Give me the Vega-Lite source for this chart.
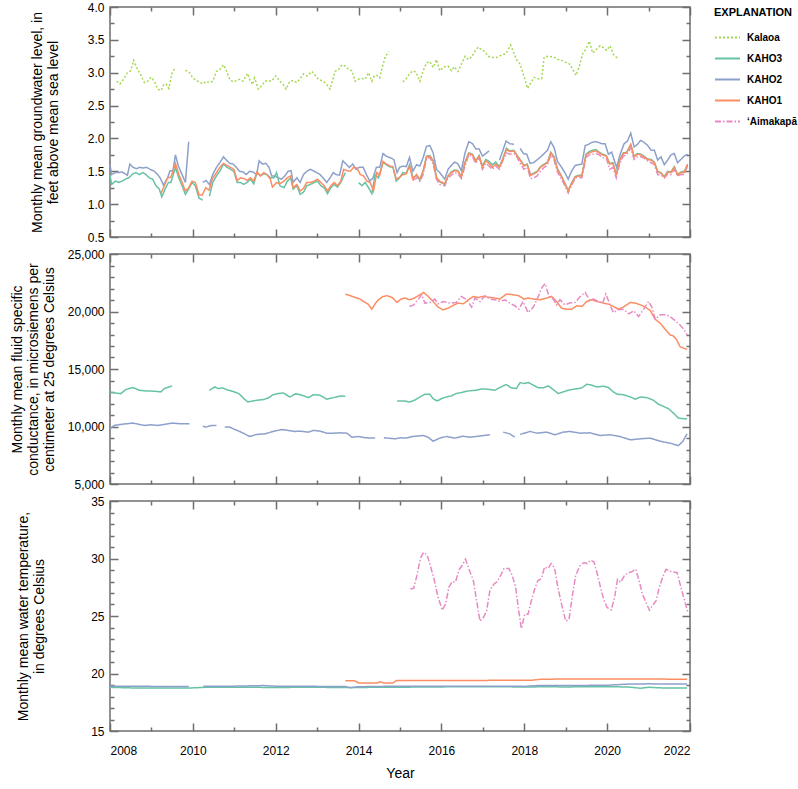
{
"$schema": "https://vega.github.io/schema/vega-lite/v6.json",
"padding": {"left": 9, "top": 0, "right": 0, "bottom": 0},
"spacing": 3,
"datasets": {
"level": [
{"site":"Kalaoa","year":2008.16,"value":2.87},{"site":"Kalaoa","year":2008.24,"value":2.83},{"site":"Kalaoa","year":2008.34,"value":2.91},{"site":"Kalaoa","year":2008.42,"value":3.0},{"site":"Kalaoa","year":2008.5,"value":3.03},{"site":"Kalaoa","year":2008.57,"value":3.19},{"site":"Kalaoa","year":2008.64,"value":3.08},{"site":"Kalaoa","year":2008.75,"value":2.96},{"site":"Kalaoa","year":2008.83,"value":2.85},{"site":"Kalaoa","year":2008.91,"value":2.87},{"site":"Kalaoa","year":2008.99,"value":2.93},{"site":"Kalaoa","year":2009.07,"value":2.87},{"site":"Kalaoa","year":2009.15,"value":2.75},{"site":"Kalaoa","year":2009.23,"value":2.73},{"site":"Kalaoa","year":2009.3,"value":2.82},{"site":"Kalaoa","year":2009.35,"value":2.83},{"site":"Kalaoa","year":2009.42,"value":2.76},{"site":"Kalaoa","year":2009.5,"value":3.0},{"site":"Kalaoa","year":2009.58,"value":3.08},{"site":"Kalaoa","year":2009.7,"value":null},
{"site":"Kalaoa","year":2009.82,"value":3.04},{"site":"Kalaoa","year":2009.92,"value":3.0},{"site":"Kalaoa","year":2010.0,"value":2.92},{"site":"Kalaoa","year":2010.12,"value":2.87},{"site":"Kalaoa","year":2010.24,"value":2.83},{"site":"Kalaoa","year":2010.32,"value":2.87},{"site":"Kalaoa","year":2010.4,"value":2.85},{"site":"Kalaoa","year":2010.48,"value":2.87},{"site":"Kalaoa","year":2010.57,"value":3.02},{"site":"Kalaoa","year":2010.65,"value":3.05},{"site":"Kalaoa","year":2010.74,"value":3.12},{"site":"Kalaoa","year":2010.81,"value":3.03},{"site":"Kalaoa","year":2010.89,"value":2.9},{"site":"Kalaoa","year":2010.97,"value":2.86},{"site":"Kalaoa","year":2011.05,"value":2.88},{"site":"Kalaoa","year":2011.13,"value":2.9},{"site":"Kalaoa","year":2011.21,"value":2.87},{"site":"Kalaoa","year":2011.32,"value":2.99},{"site":"Kalaoa","year":2011.37,"value":2.9},{"site":"Kalaoa","year":2011.44,"value":2.82},{"site":"Kalaoa","year":2011.49,"value":2.92},{"site":"Kalaoa","year":2011.58,"value":2.75},{"site":"Kalaoa","year":2011.66,"value":2.8},{"site":"Kalaoa","year":2011.74,"value":2.87},{"site":"Kalaoa","year":2011.82,"value":2.88},{"site":"Kalaoa","year":2011.9,"value":2.87},{"site":"Kalaoa","year":2012.0,"value":2.95},{"site":"Kalaoa","year":2012.1,"value":2.87},{"site":"Kalaoa","year":2012.18,"value":2.82},{"site":"Kalaoa","year":2012.25,"value":2.75},{"site":"Kalaoa","year":2012.34,"value":2.87},{"site":"Kalaoa","year":2012.42,"value":2.88},{"site":"Kalaoa","year":2012.51,"value":2.85},{"site":"Kalaoa","year":2012.59,"value":2.91},{"site":"Kalaoa","year":2012.67,"value":2.98},{"site":"Kalaoa","year":2012.76,"value":2.95},{"site":"Kalaoa","year":2012.87,"value":3.02},{"site":"Kalaoa","year":2012.95,"value":2.96},{"site":"Kalaoa","year":2013.03,"value":2.9},{"site":"Kalaoa","year":2013.15,"value":2.87},{"site":"Kalaoa","year":2013.23,"value":2.82},{"site":"Kalaoa","year":2013.31,"value":2.75},{"site":"Kalaoa","year":2013.39,"value":2.92},{"site":"Kalaoa","year":2013.43,"value":3.02},{"site":"Kalaoa","year":2013.52,"value":3.05},{"site":"Kalaoa","year":2013.6,"value":3.12},{"site":"Kalaoa","year":2013.68,"value":3.1},{"site":"Kalaoa","year":2013.76,"value":3.05},{"site":"Kalaoa","year":2013.84,"value":3.03},{"site":"Kalaoa","year":2013.92,"value":2.87},{"site":"Kalaoa","year":2014.0,"value":2.9},{"site":"Kalaoa","year":2014.08,"value":2.91},{"site":"Kalaoa","year":2014.16,"value":2.9},{"site":"Kalaoa","year":2014.24,"value":3.0},{"site":"Kalaoa","year":2014.32,"value":2.87},{"site":"Kalaoa","year":2014.38,"value":2.95},{"site":"Kalaoa","year":2014.44,"value":2.96},{"site":"Kalaoa","year":2014.51,"value":2.92},{"site":"Kalaoa","year":2014.57,"value":3.08},{"site":"Kalaoa","year":2014.65,"value":3.25},{"site":"Kalaoa","year":2014.73,"value":3.32},{"site":"Kalaoa","year":2014.9,"value":null},
{"site":"Kalaoa","year":2015.07,"value":2.86},{"site":"Kalaoa","year":2015.15,"value":2.91},{"site":"Kalaoa","year":2015.23,"value":2.98},{"site":"Kalaoa","year":2015.31,"value":3.03},{"site":"Kalaoa","year":2015.38,"value":3.01},{"site":"Kalaoa","year":2015.48,"value":2.87},{"site":"Kalaoa","year":2015.56,"value":3.03},{"site":"Kalaoa","year":2015.64,"value":3.15},{"site":"Kalaoa","year":2015.72,"value":3.17},{"site":"Kalaoa","year":2015.8,"value":3.08},{"site":"Kalaoa","year":2015.88,"value":3.2},{"site":"Kalaoa","year":2015.96,"value":3.03},{"site":"Kalaoa","year":2016.06,"value":3.09},{"site":"Kalaoa","year":2016.16,"value":3.1},{"site":"Kalaoa","year":2016.24,"value":3.03},{"site":"Kalaoa","year":2016.31,"value":3.09},{"site":"Kalaoa","year":2016.4,"value":3.02},{"site":"Kalaoa","year":2016.48,"value":3.13},{"site":"Kalaoa","year":2016.57,"value":3.25},{"site":"Kalaoa","year":2016.65,"value":3.2},{"site":"Kalaoa","year":2016.73,"value":3.24},{"site":"Kalaoa","year":2016.81,"value":3.33},{"site":"Kalaoa","year":2016.89,"value":3.39},{"site":"Kalaoa","year":2016.97,"value":3.35},{"site":"Kalaoa","year":2017.05,"value":3.32},{"site":"Kalaoa","year":2017.13,"value":3.25},{"site":"Kalaoa","year":2017.21,"value":3.23},{"site":"Kalaoa","year":2017.33,"value":3.23},{"site":"Kalaoa","year":2017.45,"value":3.27},{"site":"Kalaoa","year":2017.56,"value":3.29},{"site":"Kalaoa","year":2017.67,"value":3.42},{"site":"Kalaoa","year":2017.73,"value":3.33},{"site":"Kalaoa","year":2017.81,"value":3.2},{"site":"Kalaoa","year":2017.9,"value":3.13},{"site":"Kalaoa","year":2017.99,"value":2.95},{"site":"Kalaoa","year":2018.08,"value":2.76},{"site":"Kalaoa","year":2018.16,"value":2.85},{"site":"Kalaoa","year":2018.24,"value":2.93},{"site":"Kalaoa","year":2018.32,"value":2.91},{"site":"Kalaoa","year":2018.42,"value":2.91},{"site":"Kalaoa","year":2018.48,"value":3.24},{"site":"Kalaoa","year":2018.58,"value":3.25},{"site":"Kalaoa","year":2018.7,"value":3.24},{"site":"Kalaoa","year":2018.82,"value":3.2},{"site":"Kalaoa","year":2018.94,"value":3.18},{"site":"Kalaoa","year":2019.02,"value":3.15},{"site":"Kalaoa","year":2019.1,"value":3.13},{"site":"Kalaoa","year":2019.17,"value":3.05},{"site":"Kalaoa","year":2019.25,"value":2.96},{"site":"Kalaoa","year":2019.33,"value":3.1},{"site":"Kalaoa","year":2019.41,"value":3.29},{"site":"Kalaoa","year":2019.49,"value":3.36},{"site":"Kalaoa","year":2019.57,"value":3.48},{"site":"Kalaoa","year":2019.65,"value":3.3},{"site":"Kalaoa","year":2019.75,"value":3.36},{"site":"Kalaoa","year":2019.83,"value":3.41},{"site":"Kalaoa","year":2019.91,"value":3.38},{"site":"Kalaoa","year":2019.99,"value":3.34},{"site":"Kalaoa","year":2020.07,"value":3.41},{"site":"Kalaoa","year":2020.15,"value":3.28},{"site":"Kalaoa","year":2020.25,"value":3.22},
{"site":"KAHO2","year":2008.0,"value":1.6},{"site":"KAHO2","year":2008.04,"value":1.45},{"site":"KAHO2","year":2008.13,"value":1.48},{"site":"KAHO2","year":2008.21,"value":1.48},{"site":"KAHO2","year":2008.29,"value":1.49},{"site":"KAHO2","year":2008.37,"value":1.46},{"site":"KAHO2","year":2008.42,"value":1.44},{"site":"KAHO2","year":2008.48,"value":1.61},{"site":"KAHO2","year":2008.56,"value":1.56},{"site":"KAHO2","year":2008.64,"value":1.54},{"site":"KAHO2","year":2008.72,"value":1.56},{"site":"KAHO2","year":2008.8,"value":1.55},{"site":"KAHO2","year":2008.88,"value":1.56},{"site":"KAHO2","year":2008.97,"value":1.53},{"site":"KAHO2","year":2009.07,"value":1.5},{"site":"KAHO2","year":2009.15,"value":1.45},{"site":"KAHO2","year":2009.21,"value":1.4},{"site":"KAHO2","year":2009.29,"value":1.29},{"site":"KAHO2","year":2009.39,"value":1.4},{"site":"KAHO2","year":2009.45,"value":1.51},{"site":"KAHO2","year":2009.52,"value":1.51},{"site":"KAHO2","year":2009.58,"value":1.75},{"site":"KAHO2","year":2009.65,"value":1.58},{"site":"KAHO2","year":2009.74,"value":1.45},{"site":"KAHO2","year":2009.82,"value":1.33},{"site":"KAHO2","year":2009.9,"value":1.95},{"site":"KAHO2","year":2010.07,"value":null},
{"site":"KAHO2","year":2010.24,"value":1.33},{"site":"KAHO2","year":2010.32,"value":1.36},{"site":"KAHO2","year":2010.4,"value":1.3},{"site":"KAHO2","year":2010.48,"value":1.45},{"site":"KAHO2","year":2010.57,"value":1.56},{"site":"KAHO2","year":2010.65,"value":1.63},{"site":"KAHO2","year":2010.74,"value":1.72},{"site":"KAHO2","year":2010.81,"value":1.67},{"site":"KAHO2","year":2010.89,"value":1.62},{"site":"KAHO2","year":2010.97,"value":1.61},{"site":"KAHO2","year":2011.05,"value":1.56},{"site":"KAHO2","year":2011.13,"value":1.5},{"site":"KAHO2","year":2011.21,"value":1.49},{"site":"KAHO2","year":2011.29,"value":1.45},{"site":"KAHO2","year":2011.37,"value":1.5},{"site":"KAHO2","year":2011.45,"value":1.49},{"site":"KAHO2","year":2011.54,"value":1.45},{"site":"KAHO2","year":2011.6,"value":1.66},{"site":"KAHO2","year":2011.68,"value":1.61},{"site":"KAHO2","year":2011.76,"value":1.62},{"site":"KAHO2","year":2011.84,"value":1.56},{"site":"KAHO2","year":2011.9,"value":1.43},{"site":"KAHO2","year":2011.98,"value":1.43},{"site":"KAHO2","year":2012.06,"value":1.4},{"site":"KAHO2","year":2012.14,"value":1.38},{"site":"KAHO2","year":2012.22,"value":1.43},{"site":"KAHO2","year":2012.3,"value":1.5},{"site":"KAHO2","year":2012.37,"value":1.51},{"site":"KAHO2","year":2012.42,"value":1.33},{"site":"KAHO2","year":2012.51,"value":1.4},{"site":"KAHO2","year":2012.59,"value":1.33},{"site":"KAHO2","year":2012.67,"value":1.45},{"site":"KAHO2","year":2012.75,"value":1.5},{"site":"KAHO2","year":2012.84,"value":1.53},{"site":"KAHO2","year":2012.93,"value":1.5},{"site":"KAHO2","year":2012.99,"value":1.48},{"site":"KAHO2","year":2013.07,"value":1.45},{"site":"KAHO2","year":2013.17,"value":1.38},{"site":"KAHO2","year":2013.23,"value":1.33},{"site":"KAHO2","year":2013.31,"value":1.4},{"site":"KAHO2","year":2013.39,"value":1.48},{"site":"KAHO2","year":2013.46,"value":1.45},{"site":"KAHO2","year":2013.54,"value":1.44},{"site":"KAHO2","year":2013.62,"value":1.66},{"site":"KAHO2","year":2013.7,"value":1.61},{"site":"KAHO2","year":2013.78,"value":1.56},{"site":"KAHO2","year":2013.86,"value":1.61},{"site":"KAHO2","year":2013.94,"value":1.53},{"site":"KAHO2","year":2014.02,"value":1.56},{"site":"KAHO2","year":2014.11,"value":1.56},{"site":"KAHO2","year":2014.19,"value":1.45},{"site":"KAHO2","year":2014.27,"value":1.35},{"site":"KAHO2","year":2014.35,"value":1.4},{"site":"KAHO2","year":2014.43,"value":1.56},{"site":"KAHO2","year":2014.51,"value":1.56},{"site":"KAHO2","year":2014.59,"value":1.77},{"site":"KAHO2","year":2014.67,"value":1.73},{"site":"KAHO2","year":2014.75,"value":1.71},{"site":"KAHO2","year":2014.85,"value":1.68},{"site":"KAHO2","year":2014.93,"value":1.48},
{"site":"KAHO2","year":2014.99,"value":1.56},{"site":"KAHO2","year":2015.07,"value":1.58},{"site":"KAHO2","year":2015.15,"value":1.57},{"site":"KAHO2","year":2015.23,"value":1.71},{"site":"KAHO2","year":2015.31,"value":1.5},{"site":"KAHO2","year":2015.4,"value":1.6},{"site":"KAHO2","year":2015.48,"value":1.58},{"site":"KAHO2","year":2015.56,"value":1.71},{"site":"KAHO2","year":2015.64,"value":1.88},{"site":"KAHO2","year":2015.72,"value":1.89},{"site":"KAHO2","year":2015.8,"value":1.78},{"site":"KAHO2","year":2015.88,"value":1.53},{"site":"KAHO2","year":2015.96,"value":1.48},{"site":"KAHO2","year":2016.08,"value":1.38},{"site":"KAHO2","year":2016.16,"value":1.53},{"site":"KAHO2","year":2016.24,"value":1.59},{"site":"KAHO2","year":2016.32,"value":1.64},{"site":"KAHO2","year":2016.4,"value":1.61},{"site":"KAHO2","year":2016.48,"value":1.51},{"site":"KAHO2","year":2016.57,"value":1.78},{"site":"KAHO2","year":2016.66,"value":1.95},{"site":"KAHO2","year":2016.75,"value":1.92},{"site":"KAHO2","year":2016.83,"value":1.84},{"site":"KAHO2","year":2016.91,"value":1.84},{"site":"KAHO2","year":2016.99,"value":1.73},{"site":"KAHO2","year":2017.07,"value":1.77},{"site":"KAHO2","year":2017.15,"value":1.81},{"site":"KAHO2","year":2017.28,"value":null},{"site":"KAHO2","year":2017.4,"value":1.67},{"site":"KAHO2","year":2017.48,"value":1.81},{"site":"KAHO2","year":2017.56,"value":1.96},{"site":"KAHO2","year":2017.65,"value":1.92},{"site":"KAHO2","year":2017.75,"value":1.91},{"site":"KAHO2","year":2017.82,"value":null},{"site":"KAHO2","year":2017.9,"value":1.85},{"site":"KAHO2","year":2017.98,"value":1.77},{"site":"KAHO2","year":2018.06,"value":1.76},{"site":"KAHO2","year":2018.14,"value":1.62},{"site":"KAHO2","year":2018.22,"value":1.63},{"site":"KAHO2","year":2018.3,"value":1.67},{"site":"KAHO2","year":2018.38,"value":1.71},{"site":"KAHO2","year":2018.48,"value":1.77},{"site":"KAHO2","year":2018.56,"value":1.82},{"site":"KAHO2","year":2018.64,"value":1.95},{"site":"KAHO2","year":2018.72,"value":1.86},{"site":"KAHO2","year":2018.8,"value":1.65},{"site":"KAHO2","year":2018.88,"value":1.58},{"site":"KAHO2","year":2018.98,"value":1.48},{"site":"KAHO2","year":2019.06,"value":1.38},{"site":"KAHO2","year":2019.14,"value":1.5},{"site":"KAHO2","year":2019.23,"value":1.59},{"site":"KAHO2","year":2019.31,"value":1.6},{"site":"KAHO2","year":2019.39,"value":1.61},{"site":"KAHO2","year":2019.47,"value":1.89},{"site":"KAHO2","year":2019.55,"value":1.91},{"site":"KAHO2","year":2019.63,"value":1.94},{"site":"KAHO2","year":2019.71,"value":1.95},{"site":"KAHO2","year":2019.79,"value":1.94},{"site":"KAHO2","year":2019.87,"value":1.92},{"site":"KAHO2","year":2019.95,"value":1.92},{"site":"KAHO2","year":2020.03,"value":1.76},{"site":"KAHO2","year":2020.11,"value":1.79},{"site":"KAHO2","year":2020.17,"value":1.67},{"site":"KAHO2","year":2020.23,"value":1.56},{"site":"KAHO2","year":2020.31,"value":1.75},{"site":"KAHO2","year":2020.41,"value":1.92},{"site":"KAHO2","year":2020.49,"value":1.96},{"site":"KAHO2","year":2020.57,"value":2.08},{"site":"KAHO2","year":2020.65,"value":1.87},{"site":"KAHO2","year":2020.73,"value":1.91},{"site":"KAHO2","year":2020.81,"value":1.97},{"site":"KAHO2","year":2020.89,"value":1.94},{"site":"KAHO2","year":2020.97,"value":1.9},{"site":"KAHO2","year":2021.06,"value":1.82},{"site":"KAHO2","year":2021.14,"value":1.82},{"site":"KAHO2","year":2021.22,"value":1.67},{"site":"KAHO2","year":2021.3,"value":1.72},{"site":"KAHO2","year":2021.38,"value":1.6},{"site":"KAHO2","year":2021.46,"value":1.67},{"site":"KAHO2","year":2021.54,"value":1.75},{"site":"KAHO2","year":2021.62,"value":1.77},{"site":"KAHO2","year":2021.7,"value":1.63},{"site":"KAHO2","year":2021.78,"value":1.68},{"site":"KAHO2","year":2021.86,"value":1.73},{"site":"KAHO2","year":2021.94,"value":1.76},
{"site":"ʻAimakapā","year":2015.31,"value":1.36},{"site":"ʻAimakapā","year":2015.4,"value":1.4},{"site":"ʻAimakapā","year":2015.48,"value":1.35},{"site":"ʻAimakapā","year":2015.56,"value":1.45},{"site":"ʻAimakapā","year":2015.64,"value":1.7},{"site":"ʻAimakapā","year":2015.72,"value":1.71},{"site":"ʻAimakapā","year":2015.8,"value":1.61},{"site":"ʻAimakapā","year":2015.88,"value":1.38},{"site":"ʻAimakapā","year":2015.96,"value":1.3},{"site":"ʻAimakapā","year":2016.08,"value":1.28},{"site":"ʻAimakapā","year":2016.16,"value":1.4},{"site":"ʻAimakapā","year":2016.24,"value":1.44},{"site":"ʻAimakapā","year":2016.32,"value":1.48},{"site":"ʻAimakapā","year":2016.4,"value":1.46},{"site":"ʻAimakapā","year":2016.48,"value":1.39},{"site":"ʻAimakapā","year":2016.57,"value":1.58},{"site":"ʻAimakapā","year":2016.66,"value":1.75},{"site":"ʻAimakapā","year":2016.75,"value":1.72},{"site":"ʻAimakapā","year":2016.83,"value":1.62},{"site":"ʻAimakapā","year":2016.91,"value":1.71},{"site":"ʻAimakapā","year":2016.99,"value":1.53},{"site":"ʻAimakapā","year":2017.07,"value":1.62},{"site":"ʻAimakapā","year":2017.15,"value":1.58},{"site":"ʻAimakapā","year":2017.23,"value":1.53},{"site":"ʻAimakapā","year":2017.31,"value":1.58},{"site":"ʻAimakapā","year":2017.4,"value":1.53},{"site":"ʻAimakapā","year":2017.48,"value":1.66},{"site":"ʻAimakapā","year":2017.57,"value":1.78},{"site":"ʻAimakapā","year":2017.65,"value":1.76},{"site":"ʻAimakapā","year":2017.75,"value":1.77},{"site":"ʻAimakapā","year":2017.83,"value":1.71},{"site":"ʻAimakapā","year":2017.91,"value":1.61},{"site":"ʻAimakapā","year":2017.99,"value":1.53},{"site":"ʻAimakapā","year":2018.07,"value":1.56},{"site":"ʻAimakapā","year":2018.15,"value":1.39},{"site":"ʻAimakapā","year":2018.23,"value":1.4},{"site":"ʻAimakapā","year":2018.31,"value":1.43},{"site":"ʻAimakapā","year":2018.39,"value":1.5},{"site":"ʻAimakapā","year":2018.48,"value":1.56},{"site":"ʻAimakapā","year":2018.56,"value":1.6},{"site":"ʻAimakapā","year":2018.64,"value":1.75},{"site":"ʻAimakapā","year":2018.72,"value":1.67},{"site":"ʻAimakapā","year":2018.8,"value":1.49},{"site":"ʻAimakapā","year":2018.88,"value":1.4},{"site":"ʻAimakapā","year":2018.98,"value":1.28},{"site":"ʻAimakapā","year":2019.06,"value":1.17},{"site":"ʻAimakapā","year":2019.14,"value":1.28},{"site":"ʻAimakapā","year":2019.23,"value":1.4},{"site":"ʻAimakapā","year":2019.31,"value":1.41},{"site":"ʻAimakapā","year":2019.39,"value":1.4},{"site":"ʻAimakapā","year":2019.49,"value":1.71},{"site":"ʻAimakapā","year":2019.57,"value":1.75},{"site":"ʻAimakapā","year":2019.65,"value":1.76},{"site":"ʻAimakapā","year":2019.73,"value":1.77},{"site":"ʻAimakapā","year":2019.81,"value":1.75},{"site":"ʻAimakapā","year":2019.89,"value":1.71},{"site":"ʻAimakapā","year":2019.98,"value":1.7},{"site":"ʻAimakapā","year":2020.06,"value":1.53},{"site":"ʻAimakapā","year":2020.14,"value":1.56},{"site":"ʻAimakapā","year":2020.22,"value":1.4},{"site":"ʻAimakapā","year":2020.3,"value":1.61},{"site":"ʻAimakapā","year":2020.39,"value":1.73},{"site":"ʻAimakapā","year":2020.47,"value":1.75},{"site":"ʻAimakapā","year":2020.57,"value":1.86},{"site":"ʻAimakapā","year":2020.65,"value":1.68},{"site":"ʻAimakapā","year":2020.73,"value":1.72},{"site":"ʻAimakapā","year":2020.81,"value":1.72},{"site":"ʻAimakapā","year":2020.89,"value":1.7},{"site":"ʻAimakapā","year":2020.97,"value":1.66},{"site":"ʻAimakapā","year":2021.06,"value":1.63},{"site":"ʻAimakapā","year":2021.14,"value":1.6},{"site":"ʻAimakapā","year":2021.22,"value":1.45},{"site":"ʻAimakapā","year":2021.3,"value":1.44},{"site":"ʻAimakapā","year":2021.38,"value":1.4},{"site":"ʻAimakapā","year":2021.46,"value":1.46},{"site":"ʻAimakapā","year":2021.54,"value":1.45},{"site":"ʻAimakapā","year":2021.62,"value":1.53},{"site":"ʻAimakapā","year":2021.7,"value":1.43},{"site":"ʻAimakapā","year":2021.78,"value":1.45},{"site":"ʻAimakapā","year":2021.86,"value":1.45},{"site":"ʻAimakapā","year":2021.94,"value":1.58},
{"site":"KAHO3","year":2008.0,"value":1.44},{"site":"KAHO3","year":2008.04,"value":1.3},{"site":"KAHO3","year":2008.13,"value":1.35},{"site":"KAHO3","year":2008.21,"value":1.33},{"site":"KAHO3","year":2008.29,"value":1.35},{"site":"KAHO3","year":2008.37,"value":1.38},{"site":"KAHO3","year":2008.45,"value":1.4},{"site":"KAHO3","year":2008.55,"value":1.46},{"site":"KAHO3","year":2008.63,"value":1.48},{"site":"KAHO3","year":2008.71,"value":1.45},{"site":"KAHO3","year":2008.79,"value":1.48},{"site":"KAHO3","year":2008.87,"value":1.45},{"site":"KAHO3","year":2008.95,"value":1.4},{"site":"KAHO3","year":2009.03,"value":1.38},{"site":"KAHO3","year":2009.11,"value":1.28},{"site":"KAHO3","year":2009.19,"value":1.23},{"site":"KAHO3","year":2009.25,"value":1.11},{"site":"KAHO3","year":2009.33,"value":1.23},{"site":"KAHO3","year":2009.41,"value":1.33},{"site":"KAHO3","year":2009.47,"value":1.33},{"site":"KAHO3","year":2009.58,"value":1.56},{"site":"KAHO3","year":2009.66,"value":1.4},{"site":"KAHO3","year":2009.74,"value":1.28},{"site":"KAHO3","year":2009.82,"value":1.15},{"site":"KAHO3","year":2009.9,"value":1.23},{"site":"KAHO3","year":2009.98,"value":1.33},{"site":"KAHO3","year":2010.06,"value":1.28},{"site":"KAHO3","year":2010.15,"value":1.09},{"site":"KAHO3","year":2010.24,"value":1.06},{"site":"KAHO3","year":2010.32,"value":null},{"site":"KAHO3","year":2010.4,"value":1.12},{"site":"KAHO3","year":2010.48,"value":1.33},{"site":"KAHO3","year":2010.57,"value":1.43},{"site":"KAHO3","year":2010.65,"value":1.5},{"site":"KAHO3","year":2010.74,"value":1.61},{"site":"KAHO3","year":2010.82,"value":1.56},{"site":"KAHO3","year":2010.91,"value":1.53},{"site":"KAHO3","year":2010.99,"value":1.5},{"site":"KAHO3","year":2011.07,"value":1.33},{"site":"KAHO3","year":2011.15,"value":1.33},{"site":"KAHO3","year":2011.23,"value":1.3},{"site":"KAHO3","year":2011.31,"value":1.33},{"site":"KAHO3","year":2011.39,"value":1.38},{"site":"KAHO3","year":2011.47,"value":1.31},{"site":"KAHO3","year":2011.55,"value":1.48},{"site":"KAHO3","year":2011.63,"value":1.43},{"site":"KAHO3","year":2011.71,"value":1.46},{"site":"KAHO3","year":2011.79,"value":1.45},{"site":"KAHO3","year":2011.87,"value":1.4},{"site":"KAHO3","year":2011.96,"value":1.4},{"site":"KAHO3","year":2012.02,"value":1.48},{"site":"KAHO3","year":2012.1,"value":1.28},{"site":"KAHO3","year":2012.2,"value":1.25},{"site":"KAHO3","year":2012.28,"value":1.35},{"site":"KAHO3","year":2012.36,"value":1.4},{"site":"KAHO3","year":2012.42,"value":1.23},{"site":"KAHO3","year":2012.51,"value":1.28},{"site":"KAHO3","year":2012.59,"value":1.15},{"site":"KAHO3","year":2012.67,"value":1.18},{"site":"KAHO3","year":2012.75,"value":1.28},{"site":"KAHO3","year":2012.84,"value":1.3},{"site":"KAHO3","year":2012.93,"value":1.33},{"site":"KAHO3","year":2013.01,"value":1.35},{"site":"KAHO3","year":2013.09,"value":1.28},{"site":"KAHO3","year":2013.17,"value":1.25},{"site":"KAHO3","year":2013.25,"value":1.16},{"site":"KAHO3","year":2013.33,"value":1.25},{"site":"KAHO3","year":2013.41,"value":1.3},{"site":"KAHO3","year":2013.49,"value":1.26},{"site":"KAHO3","year":2013.57,"value":1.33},{"site":"KAHO3","year":2013.68,"value":1.48},{"site":"KAHO3","year":2013.84,"value":null},{"site":"KAHO3","year":2014.0,"value":1.33},{"site":"KAHO3","year":2014.08,"value":1.28},{"site":"KAHO3","year":2014.16,"value":1.33},{"site":"KAHO3","year":2014.24,"value":1.25},{"site":"KAHO3","year":2014.32,"value":1.16},{"site":"KAHO3","year":2014.4,"value":1.45},{"site":"KAHO3","year":2014.48,"value":1.4},{"site":"KAHO3","year":2014.59,"value":1.63},{"site":"KAHO3","year":2014.67,"value":1.6},{"site":"KAHO3","year":2014.75,"value":1.57},{"site":"KAHO3","year":2014.83,"value":1.56},{"site":"KAHO3","year":2014.91,"value":1.35},
{"site":"KAHO3","year":2014.99,"value":1.4},{"site":"KAHO3","year":2015.07,"value":1.48},{"site":"KAHO3","year":2015.15,"value":1.47},{"site":"KAHO3","year":2015.23,"value":1.6},{"site":"KAHO3","year":2015.31,"value":1.4},{"site":"KAHO3","year":2015.4,"value":1.44},{"site":"KAHO3","year":2015.48,"value":1.37},{"site":"KAHO3","year":2015.56,"value":1.51},{"site":"KAHO3","year":2015.64,"value":1.73},{"site":"KAHO3","year":2015.72,"value":1.74},{"site":"KAHO3","year":2015.8,"value":1.66},{"site":"KAHO3","year":2015.88,"value":1.41},{"site":"KAHO3","year":2015.96,"value":1.34},{"site":"KAHO3","year":2016.08,"value":1.3},{"site":"KAHO3","year":2016.16,"value":1.43},{"site":"KAHO3","year":2016.24,"value":1.49},{"site":"KAHO3","year":2016.32,"value":1.52},{"site":"KAHO3","year":2016.4,"value":1.51},{"site":"KAHO3","year":2016.48,"value":1.42},{"site":"KAHO3","year":2016.57,"value":1.64},{"site":"KAHO3","year":2016.66,"value":1.78},{"site":"KAHO3","year":2016.75,"value":1.76},{"site":"KAHO3","year":2016.83,"value":1.66},{"site":"KAHO3","year":2016.91,"value":1.74},{"site":"KAHO3","year":2016.99,"value":1.58},{"site":"KAHO3","year":2017.07,"value":1.68},{"site":"KAHO3","year":2017.15,"value":1.65},{"site":"KAHO3","year":2017.23,"value":1.6},{"site":"KAHO3","year":2017.31,"value":1.64},{"site":"KAHO3","year":2017.4,"value":1.57},{"site":"KAHO3","year":2017.48,"value":1.69},{"site":"KAHO3","year":2017.57,"value":1.85},{"site":"KAHO3","year":2017.65,"value":1.81},{"site":"KAHO3","year":2017.75,"value":1.82},{"site":"KAHO3","year":2017.83,"value":1.74},{"site":"KAHO3","year":2017.91,"value":1.67},{"site":"KAHO3","year":2017.99,"value":1.59},{"site":"KAHO3","year":2018.07,"value":1.61},{"site":"KAHO3","year":2018.15,"value":1.45},{"site":"KAHO3","year":2018.23,"value":1.47},{"site":"KAHO3","year":2018.31,"value":1.5},{"site":"KAHO3","year":2018.39,"value":1.57},{"site":"KAHO3","year":2018.48,"value":1.61},{"site":"KAHO3","year":2018.56,"value":1.64},{"site":"KAHO3","year":2018.64,"value":1.79},{"site":"KAHO3","year":2018.72,"value":1.72},{"site":"KAHO3","year":2018.8,"value":1.54},{"site":"KAHO3","year":2018.88,"value":1.45},{"site":"KAHO3","year":2018.98,"value":1.32},{"site":"KAHO3","year":2019.06,"value":1.21},{"site":"KAHO3","year":2019.14,"value":1.32},{"site":"KAHO3","year":2019.23,"value":1.42},{"site":"KAHO3","year":2019.31,"value":1.44},{"site":"KAHO3","year":2019.39,"value":1.44},{"site":"KAHO3","year":2019.49,"value":1.76},{"site":"KAHO3","year":2019.57,"value":1.8},{"site":"KAHO3","year":2019.65,"value":1.82},{"site":"KAHO3","year":2019.73,"value":1.83},{"site":"KAHO3","year":2019.81,"value":1.79},{"site":"KAHO3","year":2019.89,"value":1.76},{"site":"KAHO3","year":2019.98,"value":1.74},{"site":"KAHO3","year":2020.06,"value":1.62},{"site":"KAHO3","year":2020.14,"value":1.63},{"site":"KAHO3","year":2020.22,"value":1.45},{"site":"KAHO3","year":2020.3,"value":1.67},{"site":"KAHO3","year":2020.39,"value":1.78},{"site":"KAHO3","year":2020.47,"value":1.79},{"site":"KAHO3","year":2020.57,"value":1.9},{"site":"KAHO3","year":2020.65,"value":1.73},{"site":"KAHO3","year":2020.73,"value":1.77},{"site":"KAHO3","year":2020.81,"value":1.76},{"site":"KAHO3","year":2020.89,"value":1.73},{"site":"KAHO3","year":2020.97,"value":1.69},{"site":"KAHO3","year":2021.06,"value":1.68},{"site":"KAHO3","year":2021.14,"value":1.64},{"site":"KAHO3","year":2021.22,"value":1.5},{"site":"KAHO3","year":2021.3,"value":1.47},{"site":"KAHO3","year":2021.38,"value":1.42},{"site":"KAHO3","year":2021.46,"value":1.5},{"site":"KAHO3","year":2021.54,"value":1.49},{"site":"KAHO3","year":2021.62,"value":1.57},{"site":"KAHO3","year":2021.7,"value":1.45},{"site":"KAHO3","year":2021.78,"value":1.49},{"site":"KAHO3","year":2021.86,"value":1.49},{"site":"KAHO3","year":2021.94,"value":1.6},
{"site":"KAHO1","year":2009.23,"value":1.16},{"site":"KAHO1","year":2009.31,"value":1.28},{"site":"KAHO1","year":2009.39,"value":1.4},{"site":"KAHO1","year":2009.47,"value":1.41},{"site":"KAHO1","year":2009.58,"value":1.62},{"site":"KAHO1","year":2009.66,"value":1.45},{"site":"KAHO1","year":2009.74,"value":1.33},{"site":"KAHO1","year":2009.82,"value":1.2},{"site":"KAHO1","year":2009.9,"value":1.25},{"site":"KAHO1","year":2009.98,"value":1.35},{"site":"KAHO1","year":2010.06,"value":1.33},{"site":"KAHO1","year":2010.15,"value":1.14},{"site":"KAHO1","year":2010.23,"value":1.14},{"site":"KAHO1","year":2010.31,"value":1.25},{"site":"KAHO1","year":2010.39,"value":1.21},{"site":"KAHO1","year":2010.47,"value":1.38},{"site":"KAHO1","year":2010.57,"value":1.48},{"site":"KAHO1","year":2010.65,"value":1.56},{"site":"KAHO1","year":2010.74,"value":1.62},{"site":"KAHO1","year":2010.82,"value":1.59},{"site":"KAHO1","year":2010.91,"value":1.56},{"site":"KAHO1","year":2010.99,"value":1.53},{"site":"KAHO1","year":2011.07,"value":1.36},{"site":"KAHO1","year":2011.15,"value":1.4},{"site":"KAHO1","year":2011.23,"value":1.39},{"site":"KAHO1","year":2011.31,"value":1.36},{"site":"KAHO1","year":2011.39,"value":1.4},{"site":"KAHO1","year":2011.47,"value":1.35},{"site":"KAHO1","year":2011.55,"value":1.49},{"site":"KAHO1","year":2011.63,"value":1.43},{"site":"KAHO1","year":2011.71,"value":1.48},{"site":"KAHO1","year":2011.79,"value":1.45},{"site":"KAHO1","year":2011.87,"value":1.38},{"site":"KAHO1","year":2011.92,"value":1.26},{"site":"KAHO1","year":2012.02,"value":1.33},{"site":"KAHO1","year":2012.1,"value":1.31},{"site":"KAHO1","year":2012.2,"value":1.35},{"site":"KAHO1","year":2012.28,"value":1.4},{"site":"KAHO1","year":2012.36,"value":1.43},{"site":"KAHO1","year":2012.42,"value":1.25},{"site":"KAHO1","year":2012.51,"value":1.3},{"site":"KAHO1","year":2012.59,"value":1.2},{"site":"KAHO1","year":2012.67,"value":1.24},{"site":"KAHO1","year":2012.75,"value":1.33},{"site":"KAHO1","year":2012.84,"value":1.33},{"site":"KAHO1","year":2012.93,"value":1.35},{"site":"KAHO1","year":2013.01,"value":1.38},{"site":"KAHO1","year":2013.09,"value":1.33},{"site":"KAHO1","year":2013.17,"value":1.28},{"site":"KAHO1","year":2013.25,"value":1.2},{"site":"KAHO1","year":2013.33,"value":1.28},{"site":"KAHO1","year":2013.41,"value":1.33},{"site":"KAHO1","year":2013.49,"value":1.28},{"site":"KAHO1","year":2013.57,"value":1.35},{"site":"KAHO1","year":2013.64,"value":1.53},{"site":"KAHO1","year":2013.72,"value":1.51},{"site":"KAHO1","year":2013.8,"value":1.5},{"site":"KAHO1","year":2013.88,"value":1.56},{"site":"KAHO1","year":2013.96,"value":1.55},{"site":"KAHO1","year":2014.04,"value":1.45},{"site":"KAHO1","year":2014.12,"value":1.43},{"site":"KAHO1","year":2014.2,"value":1.35},{"site":"KAHO1","year":2014.28,"value":1.33},{"site":"KAHO1","year":2014.36,"value":1.2},{"site":"KAHO1","year":2014.44,"value":1.48},{"site":"KAHO1","year":2014.51,"value":1.44},{"site":"KAHO1","year":2014.59,"value":1.65},{"site":"KAHO1","year":2014.67,"value":1.61},{"site":"KAHO1","year":2014.75,"value":1.58},{"site":"KAHO1","year":2014.83,"value":1.57},{"site":"KAHO1","year":2014.91,"value":1.38},
{"site":"KAHO1","year":2014.99,"value":1.41},{"site":"KAHO1","year":2015.07,"value":1.45},{"site":"KAHO1","year":2015.15,"value":1.46},{"site":"KAHO1","year":2015.23,"value":1.58},{"site":"KAHO1","year":2015.31,"value":1.38},{"site":"KAHO1","year":2015.4,"value":1.45},{"site":"KAHO1","year":2015.48,"value":1.38},{"site":"KAHO1","year":2015.56,"value":1.5},{"site":"KAHO1","year":2015.64,"value":1.72},{"site":"KAHO1","year":2015.72,"value":1.73},{"site":"KAHO1","year":2015.8,"value":1.66},{"site":"KAHO1","year":2015.88,"value":1.4},{"site":"KAHO1","year":2015.96,"value":1.35},{"site":"KAHO1","year":2016.08,"value":1.31},{"site":"KAHO1","year":2016.16,"value":1.43},{"site":"KAHO1","year":2016.24,"value":1.48},{"site":"KAHO1","year":2016.32,"value":1.51},{"site":"KAHO1","year":2016.4,"value":1.5},{"site":"KAHO1","year":2016.48,"value":1.41},{"site":"KAHO1","year":2016.57,"value":1.63},{"site":"KAHO1","year":2016.66,"value":1.77},{"site":"KAHO1","year":2016.75,"value":1.75},{"site":"KAHO1","year":2016.83,"value":1.65},{"site":"KAHO1","year":2016.91,"value":1.73},{"site":"KAHO1","year":2016.99,"value":1.56},{"site":"KAHO1","year":2017.07,"value":1.66},{"site":"KAHO1","year":2017.15,"value":1.62},{"site":"KAHO1","year":2017.23,"value":1.56},{"site":"KAHO1","year":2017.31,"value":1.61},{"site":"KAHO1","year":2017.4,"value":1.56},{"site":"KAHO1","year":2017.48,"value":1.68},{"site":"KAHO1","year":2017.57,"value":1.83},{"site":"KAHO1","year":2017.65,"value":1.8},{"site":"KAHO1","year":2017.75,"value":1.81},{"site":"KAHO1","year":2017.83,"value":1.73},{"site":"KAHO1","year":2017.91,"value":1.66},{"site":"KAHO1","year":2017.99,"value":1.58},{"site":"KAHO1","year":2018.07,"value":1.6},{"site":"KAHO1","year":2018.15,"value":1.44},{"site":"KAHO1","year":2018.23,"value":1.46},{"site":"KAHO1","year":2018.31,"value":1.49},{"site":"KAHO1","year":2018.39,"value":1.56},{"site":"KAHO1","year":2018.48,"value":1.6},{"site":"KAHO1","year":2018.56,"value":1.63},{"site":"KAHO1","year":2018.64,"value":1.78},{"site":"KAHO1","year":2018.72,"value":1.71},{"site":"KAHO1","year":2018.8,"value":1.53},{"site":"KAHO1","year":2018.88,"value":1.44},{"site":"KAHO1","year":2018.98,"value":1.31},{"site":"KAHO1","year":2019.06,"value":1.2},{"site":"KAHO1","year":2019.14,"value":1.31},{"site":"KAHO1","year":2019.23,"value":1.41},{"site":"KAHO1","year":2019.31,"value":1.43},{"site":"KAHO1","year":2019.39,"value":1.43},{"site":"KAHO1","year":2019.49,"value":1.75},{"site":"KAHO1","year":2019.57,"value":1.78},{"site":"KAHO1","year":2019.65,"value":1.8},{"site":"KAHO1","year":2019.73,"value":1.81},{"site":"KAHO1","year":2019.81,"value":1.78},{"site":"KAHO1","year":2019.89,"value":1.75},{"site":"KAHO1","year":2019.98,"value":1.73},{"site":"KAHO1","year":2020.06,"value":1.61},{"site":"KAHO1","year":2020.14,"value":1.62},{"site":"KAHO1","year":2020.22,"value":1.44},{"site":"KAHO1","year":2020.3,"value":1.66},{"site":"KAHO1","year":2020.39,"value":1.77},{"site":"KAHO1","year":2020.47,"value":1.78},{"site":"KAHO1","year":2020.57,"value":1.91},{"site":"KAHO1","year":2020.65,"value":1.72},{"site":"KAHO1","year":2020.73,"value":1.76},{"site":"KAHO1","year":2020.81,"value":1.75},{"site":"KAHO1","year":2020.89,"value":1.72},{"site":"KAHO1","year":2020.97,"value":1.68},{"site":"KAHO1","year":2021.06,"value":1.67},{"site":"KAHO1","year":2021.14,"value":1.63},{"site":"KAHO1","year":2021.22,"value":1.49},{"site":"KAHO1","year":2021.3,"value":1.48},{"site":"KAHO1","year":2021.38,"value":1.41},{"site":"KAHO1","year":2021.46,"value":1.49},{"site":"KAHO1","year":2021.54,"value":1.48},{"site":"KAHO1","year":2021.62,"value":1.56},{"site":"KAHO1","year":2021.7,"value":1.44},{"site":"KAHO1","year":2021.78,"value":1.48},{"site":"KAHO1","year":2021.86,"value":1.48},{"site":"KAHO1","year":2021.94,"value":1.61}
],
"sc": [
{"site":"KAHO3","year":2008.0,"value":13010},{"site":"KAHO3","year":2008.1,"value":12920},{"site":"KAHO3","year":2008.26,"value":12860},{"site":"KAHO3","year":2008.38,"value":13210},{"site":"KAHO3","year":2008.55,"value":13390},{"site":"KAHO3","year":2008.71,"value":13150},{"site":"KAHO3","year":2008.87,"value":13090},{"site":"KAHO3","year":2009.07,"value":13070},{"site":"KAHO3","year":2009.23,"value":13010},{"site":"KAHO3","year":2009.31,"value":13300},{"site":"KAHO3","year":2009.5,"value":13530},{"site":"KAHO3","year":2009.9,"value":null},{"site":"KAHO3","year":2010.4,"value":13150},{"site":"KAHO3","year":2010.53,"value":13440},{"site":"KAHO3","year":2010.61,"value":13300},{"site":"KAHO3","year":2010.71,"value":13360},{"site":"KAHO3","year":2010.81,"value":13210},{"site":"KAHO3","year":2010.93,"value":13090},{"site":"KAHO3","year":2011.05,"value":12950},{"site":"KAHO3","year":2011.13,"value":12800},{"site":"KAHO3","year":2011.23,"value":12420},{"site":"KAHO3","year":2011.33,"value":12130},{"site":"KAHO3","year":2011.44,"value":12220},{"site":"KAHO3","year":2011.54,"value":12280},{"site":"KAHO3","year":2011.7,"value":12340},{"site":"KAHO3","year":2011.82,"value":12480},{"site":"KAHO3","year":2011.94,"value":12770},{"site":"KAHO3","year":2012.06,"value":12860},{"site":"KAHO3","year":2012.18,"value":12920},{"site":"KAHO3","year":2012.34,"value":12570},{"site":"KAHO3","year":2012.49,"value":12860},{"site":"KAHO3","year":2012.63,"value":12720},{"site":"KAHO3","year":2012.79,"value":12510},{"site":"KAHO3","year":2012.91,"value":12770},{"site":"KAHO3","year":2013.07,"value":12720},{"site":"KAHO3","year":2013.23,"value":12370},{"site":"KAHO3","year":2013.39,"value":12510},{"site":"KAHO3","year":2013.56,"value":12660},{"site":"KAHO3","year":2013.68,"value":12630},{"site":"KAHO3","year":2014.3,"value":null},{"site":"KAHO3","year":2014.93,"value":12220},{"site":"KAHO3","year":2015.11,"value":12220},{"site":"KAHO3","year":2015.23,"value":12130},{"site":"KAHO3","year":2015.35,"value":12280},{"site":"KAHO3","year":2015.48,"value":12570},{"site":"KAHO3","year":2015.6,"value":12800},{"site":"KAHO3","year":2015.72,"value":12800},{"site":"KAHO3","year":2015.8,"value":12420},{"site":"KAHO3","year":2015.9,"value":12220},{"site":"KAHO3","year":2016.0,"value":12420},{"site":"KAHO3","year":2016.12,"value":12570},{"site":"KAHO3","year":2016.24,"value":12660},{"site":"KAHO3","year":2016.35,"value":12860},{"site":"KAHO3","year":2016.48,"value":12950},{"site":"KAHO3","year":2016.61,"value":13070},{"site":"KAHO3","year":2016.73,"value":13120},{"site":"KAHO3","year":2016.85,"value":13150},{"site":"KAHO3","year":2016.97,"value":13270},{"site":"KAHO3","year":2017.13,"value":13240},{"site":"KAHO3","year":2017.29,"value":13150},{"site":"KAHO3","year":2017.41,"value":13390},{"site":"KAHO3","year":2017.56,"value":13650},{"site":"KAHO3","year":2017.69,"value":13360},{"site":"KAHO3","year":2017.81,"value":13300},{"site":"KAHO3","year":2017.9,"value":13820},{"site":"KAHO3","year":2017.99,"value":13740},{"site":"KAHO3","year":2018.1,"value":13820},{"site":"KAHO3","year":2018.22,"value":13590},{"site":"KAHO3","year":2018.34,"value":13360},{"site":"KAHO3","year":2018.46,"value":13360},{"site":"KAHO3","year":2018.58,"value":13530},{"site":"KAHO3","year":2018.7,"value":13210},{"site":"KAHO3","year":2018.82,"value":12860},{"site":"KAHO3","year":2018.94,"value":13010},{"site":"KAHO3","year":2019.06,"value":13150},{"site":"KAHO3","year":2019.18,"value":13240},{"site":"KAHO3","year":2019.31,"value":13300},{"site":"KAHO3","year":2019.39,"value":13360},{"site":"KAHO3","year":2019.51,"value":13680},{"site":"KAHO3","year":2019.63,"value":13590},{"site":"KAHO3","year":2019.75,"value":13440},{"site":"KAHO3","year":2019.91,"value":13500},{"site":"KAHO3","year":2020.03,"value":13390},{"site":"KAHO3","year":2020.15,"value":13010},{"site":"KAHO3","year":2020.25,"value":12800},{"site":"KAHO3","year":2020.39,"value":12770},{"site":"KAHO3","year":2020.56,"value":12570},{"site":"KAHO3","year":2020.68,"value":12370},{"site":"KAHO3","year":2020.8,"value":12570},{"site":"KAHO3","year":2020.96,"value":12510},{"site":"KAHO3","year":2021.12,"value":12280},{"site":"KAHO3","year":2021.24,"value":11930},{"site":"KAHO3","year":2021.36,"value":11750},{"site":"KAHO3","year":2021.48,"value":11550},{"site":"KAHO3","year":2021.6,"value":11170},{"site":"KAHO3","year":2021.72,"value":10730},{"site":"KAHO3","year":2021.85,"value":10680},{"site":"KAHO3","year":2021.93,"value":10680},
{"site":"KAHO2","year":2008.0,"value":9800},{"site":"KAHO2","year":2008.1,"value":10090},{"site":"KAHO2","year":2008.26,"value":10180},{"site":"KAHO2","year":2008.55,"value":10300},{"site":"KAHO2","year":2008.71,"value":10180},{"site":"KAHO2","year":2008.83,"value":10090},{"site":"KAHO2","year":2008.99,"value":10150},{"site":"KAHO2","year":2009.15,"value":10090},{"site":"KAHO2","year":2009.31,"value":10180},{"site":"KAHO2","year":2009.5,"value":10300},{"site":"KAHO2","year":2009.68,"value":10240},{"site":"KAHO2","year":2009.92,"value":10240},{"site":"KAHO2","year":2010.08,"value":null},{"site":"KAHO2","year":2010.24,"value":10030},{"site":"KAHO2","year":2010.32,"value":9950},{"site":"KAHO2","year":2010.44,"value":10090},{"site":"KAHO2","year":2010.57,"value":10090},{"site":"KAHO2","year":2010.67,"value":null},{"site":"KAHO2","year":2010.77,"value":9950},{"site":"KAHO2","year":2010.89,"value":9950},{"site":"KAHO2","year":2011.01,"value":9740},{"site":"KAHO2","year":2011.13,"value":9570},{"site":"KAHO2","year":2011.25,"value":9360},{"site":"KAHO2","year":2011.37,"value":9130},{"site":"KAHO2","year":2011.54,"value":9310},{"site":"KAHO2","year":2011.74,"value":9360},{"site":"KAHO2","year":2011.94,"value":9570},{"site":"KAHO2","year":2012.14,"value":9740},{"site":"KAHO2","year":2012.3,"value":9660},{"site":"KAHO2","year":2012.46,"value":9570},{"site":"KAHO2","year":2012.59,"value":9600},{"site":"KAHO2","year":2012.79,"value":9510},{"site":"KAHO2","year":2012.91,"value":9660},{"site":"KAHO2","year":2013.07,"value":9600},{"site":"KAHO2","year":2013.23,"value":9420},{"site":"KAHO2","year":2013.39,"value":9420},{"site":"KAHO2","year":2013.56,"value":9450},{"site":"KAHO2","year":2013.72,"value":9420},{"site":"KAHO2","year":2013.84,"value":9070},{"site":"KAHO2","year":2014.0,"value":9130},{"site":"KAHO2","year":2014.16,"value":9020},{"site":"KAHO2","year":2014.4,"value":8990},{"site":"KAHO2","year":2014.5,"value":null},{"site":"KAHO2","year":2014.61,"value":9020},{"site":"KAHO2","year":2014.89,"value":8930},{"site":"KAHO2","year":2015.01,"value":9020},{"site":"KAHO2","year":2015.15,"value":8990},{"site":"KAHO2","year":2015.31,"value":9130},{"site":"KAHO2","year":2015.56,"value":9220},{"site":"KAHO2","year":2015.68,"value":9070},{"site":"KAHO2","year":2015.8,"value":8720},{"site":"KAHO2","year":2015.96,"value":8990},{"site":"KAHO2","year":2016.12,"value":9130},{"site":"KAHO2","year":2016.32,"value":8990},{"site":"KAHO2","year":2016.52,"value":9160},{"site":"KAHO2","year":2016.69,"value":9070},{"site":"KAHO2","year":2016.89,"value":9160},{"site":"KAHO2","year":2017.17,"value":9280},{"site":"KAHO2","year":2017.33,"value":null},{"site":"KAHO2","year":2017.49,"value":9510},{"site":"KAHO2","year":2017.65,"value":9360},{"site":"KAHO2","year":2017.77,"value":9070},{"site":"KAHO2","year":2017.84,"value":null},{"site":"KAHO2","year":2017.9,"value":9310},{"site":"KAHO2","year":2018.14,"value":9570},{"site":"KAHO2","year":2018.3,"value":9420},{"site":"KAHO2","year":2018.54,"value":9510},{"site":"KAHO2","year":2018.74,"value":9280},{"site":"KAHO2","year":2018.94,"value":9510},{"site":"KAHO2","year":2019.1,"value":9570},{"site":"KAHO2","year":2019.35,"value":9420},{"site":"KAHO2","year":2019.59,"value":9450},{"site":"KAHO2","year":2019.83,"value":9220},{"site":"KAHO2","year":2020.07,"value":9280},{"site":"KAHO2","year":2020.31,"value":9130},{"site":"KAHO2","year":2020.56,"value":8840},{"site":"KAHO2","year":2020.8,"value":8930},{"site":"KAHO2","year":2021.04,"value":8990},{"site":"KAHO2","year":2021.28,"value":8720},{"site":"KAHO2","year":2021.52,"value":8550},{"site":"KAHO2","year":2021.72,"value":8340},{"site":"KAHO2","year":2021.83,"value":8720},{"site":"KAHO2","year":2021.93,"value":9360},
{"site":"KAHO1","year":2013.68,"value":21520},{"site":"KAHO1","year":2013.8,"value":21370},{"site":"KAHO1","year":2013.92,"value":21220},{"site":"KAHO1","year":2014.04,"value":21080},{"site":"KAHO1","year":2014.14,"value":20820},{"site":"KAHO1","year":2014.23,"value":20640},{"site":"KAHO1","year":2014.32,"value":20200},{"site":"KAHO1","year":2014.4,"value":20670},{"site":"KAHO1","year":2014.48,"value":21020},{"site":"KAHO1","year":2014.59,"value":21310},{"site":"KAHO1","year":2014.69,"value":21370},{"site":"KAHO1","year":2014.81,"value":21220},{"site":"KAHO1","year":2014.93,"value":20790},{"site":"KAHO1","year":2015.01,"value":21050},{"site":"KAHO1","year":2015.11,"value":21170},{"site":"KAHO1","year":2015.23,"value":21020},{"site":"KAHO1","year":2015.35,"value":21170},{"site":"KAHO1","year":2015.48,"value":21460},{"site":"KAHO1","year":2015.57,"value":21660},{"site":"KAHO1","year":2015.68,"value":21310},{"site":"KAHO1","year":2015.8,"value":20870},{"site":"KAHO1","year":2015.92,"value":20380},{"site":"KAHO1","year":2016.04,"value":20150},{"site":"KAHO1","year":2016.16,"value":20290},{"site":"KAHO1","year":2016.28,"value":20530},{"site":"KAHO1","year":2016.4,"value":20730},{"site":"KAHO1","year":2016.53,"value":20670},{"site":"KAHO1","year":2016.65,"value":21020},{"site":"KAHO1","year":2016.77,"value":21310},{"site":"KAHO1","year":2016.89,"value":21220},{"site":"KAHO1","year":2017.01,"value":21310},{"site":"KAHO1","year":2017.13,"value":21250},{"site":"KAHO1","year":2017.29,"value":21170},{"site":"KAHO1","year":2017.41,"value":21080},{"site":"KAHO1","year":2017.57,"value":21520},{"site":"KAHO1","year":2017.73,"value":21460},{"site":"KAHO1","year":2017.87,"value":21370},{"site":"KAHO1","year":2017.99,"value":21080},{"site":"KAHO1","year":2018.1,"value":21170},{"site":"KAHO1","year":2018.22,"value":21080},{"site":"KAHO1","year":2018.38,"value":21020},{"site":"KAHO1","year":2018.54,"value":21170},{"site":"KAHO1","year":2018.66,"value":21310},{"site":"KAHO1","year":2018.78,"value":20870},{"site":"KAHO1","year":2018.9,"value":20290},{"site":"KAHO1","year":2019.02,"value":20200},{"site":"KAHO1","year":2019.14,"value":20200},{"site":"KAHO1","year":2019.27,"value":20500},{"site":"KAHO1","year":2019.39,"value":20440},{"site":"KAHO1","year":2019.51,"value":20870},{"site":"KAHO1","year":2019.63,"value":21020},{"site":"KAHO1","year":2019.75,"value":20870},{"site":"KAHO1","year":2019.91,"value":20730},{"site":"KAHO1","year":2020.03,"value":20640},{"site":"KAHO1","year":2020.15,"value":20440},{"site":"KAHO1","year":2020.27,"value":20200},{"site":"KAHO1","year":2020.39,"value":20380},{"site":"KAHO1","year":2020.56,"value":20790},{"site":"KAHO1","year":2020.68,"value":20730},{"site":"KAHO1","year":2020.8,"value":20580},{"site":"KAHO1","year":2020.92,"value":20380},{"site":"KAHO1","year":2021.04,"value":20090},{"site":"KAHO1","year":2021.16,"value":19330},{"site":"KAHO1","year":2021.28,"value":18980},{"site":"KAHO1","year":2021.4,"value":18460},{"site":"KAHO1","year":2021.52,"value":17960},{"site":"KAHO1","year":2021.6,"value":17870},{"site":"KAHO1","year":2021.68,"value":17520},{"site":"KAHO1","year":2021.76,"value":16940},{"site":"KAHO1","year":2021.85,"value":16800},{"site":"KAHO1","year":2021.93,"value":16710},
{"site":"ʻAimakapā","year":2015.23,"value":20440},{"site":"ʻAimakapā","year":2015.33,"value":20580},{"site":"ʻAimakapā","year":2015.43,"value":21020},{"site":"ʻAimakapā","year":2015.52,"value":21460},{"site":"ʻAimakapā","year":2015.6,"value":20730},{"site":"ʻAimakapā","year":2015.72,"value":20790},{"site":"ʻAimakapā","year":2015.84,"value":21080},{"site":"ʻAimakapā","year":2015.92,"value":20670},{"site":"ʻAimakapā","year":2016.04,"value":20870},{"site":"ʻAimakapā","year":2016.2,"value":20730},{"site":"ʻAimakapā","year":2016.36,"value":20790},{"site":"ʻAimakapā","year":2016.48,"value":21310},{"site":"ʻAimakapā","year":2016.61,"value":21020},{"site":"ʻAimakapā","year":2016.73,"value":20380},{"site":"ʻAimakapā","year":2016.81,"value":21170},{"site":"ʻAimakapā","year":2016.93,"value":20870},{"site":"ʻAimakapā","year":2017.05,"value":21370},{"site":"ʻAimakapā","year":2017.17,"value":21080},{"site":"ʻAimakapā","year":2017.29,"value":21020},{"site":"ʻAimakapā","year":2017.41,"value":20870},{"site":"ʻAimakapā","year":2017.53,"value":21020},{"site":"ʻAimakapā","year":2017.65,"value":20730},{"site":"ʻAimakapā","year":2017.77,"value":20500},{"site":"ʻAimakapā","year":2017.87,"value":20200},{"site":"ʻAimakapā","year":2017.97,"value":20870},{"site":"ʻAimakapā","year":2018.09,"value":19910},{"site":"ʻAimakapā","year":2018.22,"value":20380},{"site":"ʻAimakapā","year":2018.34,"value":21310},{"site":"ʻAimakapā","year":2018.42,"value":22040},{"site":"ʻAimakapā","year":2018.5,"value":22420},{"site":"ʻAimakapā","year":2018.6,"value":21310},{"site":"ʻAimakapā","year":2018.7,"value":21080},{"site":"ʻAimakapā","year":2018.78,"value":20580},{"site":"ʻAimakapā","year":2018.86,"value":21020},{"site":"ʻAimakapā","year":2018.98,"value":20580},{"site":"ʻAimakapā","year":2019.1,"value":20730},{"site":"ʻAimakapā","year":2019.23,"value":20790},{"site":"ʻAimakapā","year":2019.35,"value":21310},{"site":"ʻAimakapā","year":2019.47,"value":21660},{"site":"ʻAimakapā","year":2019.57,"value":21020},{"site":"ʻAimakapā","year":2019.67,"value":21080},{"site":"ʻAimakapā","year":2019.79,"value":20870},{"site":"ʻAimakapā","year":2019.89,"value":20730},{"site":"ʻAimakapā","year":2019.97,"value":21520},{"site":"ʻAimakapā","year":2020.07,"value":20580},{"site":"ʻAimakapā","year":2020.15,"value":19910},{"site":"ʻAimakapā","year":2020.27,"value":20150},{"site":"ʻAimakapā","year":2020.39,"value":20200},{"site":"ʻAimakapā","year":2020.52,"value":19800},{"site":"ʻAimakapā","year":2020.64,"value":20060},{"site":"ʻAimakapā","year":2020.76,"value":19560},{"site":"ʻAimakapā","year":2020.88,"value":20200},{"site":"ʻAimakapā","year":2021.0,"value":20870},{"site":"ʻAimakapā","year":2021.08,"value":20380},{"site":"ʻAimakapā","year":2021.16,"value":19330},{"site":"ʻAimakapā","year":2021.28,"value":19710},{"site":"ʻAimakapā","year":2021.4,"value":19710},{"site":"ʻAimakapā","year":2021.52,"value":19560},{"site":"ʻAimakapā","year":2021.64,"value":19210},{"site":"ʻAimakapā","year":2021.76,"value":18830},{"site":"ʻAimakapā","year":2021.85,"value":18460},{"site":"ʻAimakapā","year":2021.93,"value":17960}
],
"temp": [
{"site":"KAHO3","year":2008.0,"value":18.8},{"site":"KAHO3","year":2008.5,"value":18.75},{"site":"KAHO3","year":2009.0,"value":18.74},{"site":"KAHO3","year":2009.5,"value":18.74},{"site":"KAHO3","year":2010.0,"value":18.75},{"site":"KAHO3","year":2010.3,"value":18.8},{"site":"KAHO3","year":2011.0,"value":18.8},{"site":"KAHO3","year":2012.0,"value":18.79},{"site":"KAHO3","year":2013.0,"value":18.8},{"site":"KAHO3","year":2013.7,"value":18.78},{"site":"KAHO3","year":2014.5,"value":18.8},{"site":"KAHO3","year":2015.5,"value":18.82},{"site":"KAHO3","year":2016.5,"value":18.85},{"site":"KAHO3","year":2017.5,"value":18.85},{"site":"KAHO3","year":2018.0,"value":18.82},{"site":"KAHO3","year":2018.5,"value":18.85},{"site":"KAHO3","year":2019.0,"value":18.83},{"site":"KAHO3","year":2019.5,"value":18.85},{"site":"KAHO3","year":2020.0,"value":18.85},{"site":"KAHO3","year":2020.5,"value":18.83},{"site":"KAHO3","year":2020.8,"value":18.72},{"site":"KAHO3","year":2021.0,"value":18.8},{"site":"KAHO3","year":2021.3,"value":18.75},{"site":"KAHO3","year":2021.93,"value":18.75},
{"site":"KAHO2","year":2008.0,"value":18.9},{"site":"KAHO2","year":2009.0,"value":18.88},{"site":"KAHO2","year":2009.9,"value":18.88},{"site":"KAHO2","year":2010.1,"value":null},{"site":"KAHO2","year":2010.25,"value":18.9},{"site":"KAHO2","year":2011.0,"value":18.9},{"site":"KAHO2","year":2011.7,"value":18.95},{"site":"KAHO2","year":2012.0,"value":18.9},{"site":"KAHO2","year":2013.0,"value":18.88},{"site":"KAHO2","year":2013.68,"value":18.88},{"site":"KAHO2","year":2013.8,"value":18.76},{"site":"KAHO2","year":2014.0,"value":18.85},{"site":"KAHO2","year":2015.0,"value":18.9},{"site":"KAHO2","year":2016.0,"value":18.9},{"site":"KAHO2","year":2017.0,"value":18.9},{"site":"KAHO2","year":2018.0,"value":18.88},{"site":"KAHO2","year":2018.3,"value":18.95},{"site":"KAHO2","year":2019.0,"value":18.95},{"site":"KAHO2","year":2020.0,"value":18.98},{"site":"KAHO2","year":2020.5,"value":19.08},{"site":"KAHO2","year":2021.0,"value":19.1},{"site":"KAHO2","year":2021.93,"value":19.08},
{"site":"KAHO1","year":2013.68,"value":19.38},{"site":"KAHO1","year":2013.9,"value":19.38},{"site":"KAHO1","year":2014.0,"value":19.18},{"site":"KAHO1","year":2014.46,"value":19.18},{"site":"KAHO1","year":2014.52,"value":19.28},{"site":"KAHO1","year":2014.6,"value":19.18},{"site":"KAHO1","year":2014.83,"value":19.18},{"site":"KAHO1","year":2014.92,"value":19.4},{"site":"KAHO1","year":2016.0,"value":19.4},{"site":"KAHO1","year":2017.0,"value":19.4},{"site":"KAHO1","year":2018.2,"value":19.42},{"site":"KAHO1","year":2018.4,"value":19.5},{"site":"KAHO1","year":2019.0,"value":19.52},{"site":"KAHO1","year":2020.0,"value":19.52},{"site":"KAHO1","year":2021.0,"value":19.52},{"site":"KAHO1","year":2021.93,"value":19.5},
{"site":"ʻAimakapā","year":2015.25,"value":27.35},{"site":"ʻAimakapā","year":2015.33,"value":27.41},{"site":"ʻAimakapā","year":2015.41,"value":28.53},{"site":"ʻAimakapā","year":2015.49,"value":30.0},{"site":"ʻAimakapā","year":2015.57,"value":30.53},{"site":"ʻAimakapā","year":2015.65,"value":30.35},{"site":"ʻAimakapā","year":2015.73,"value":29.41},{"site":"ʻAimakapā","year":2015.82,"value":28.24},{"site":"ʻAimakapā","year":2015.91,"value":26.76},{"site":"ʻAimakapā","year":2016.02,"value":25.5},{"site":"ʻAimakapā","year":2016.1,"value":26.03},{"site":"ʻAimakapā","year":2016.18,"value":27.5},{"site":"ʻAimakapā","year":2016.26,"value":28.0},{"site":"ʻAimakapā","year":2016.34,"value":27.94},{"site":"ʻAimakapā","year":2016.42,"value":28.97},{"site":"ʻAimakapā","year":2016.5,"value":29.41},{"site":"ʻAimakapā","year":2016.58,"value":29.94},{"site":"ʻAimakapā","year":2016.66,"value":29.12},{"site":"ʻAimakapā","year":2016.77,"value":28.09},{"site":"ʻAimakapā","year":2016.85,"value":26.32},{"site":"ʻAimakapā","year":2016.93,"value":24.56},{"site":"ʻAimakapā","year":2017.01,"value":24.85},{"site":"ʻAimakapā","year":2017.09,"value":25.44},{"site":"ʻAimakapā","year":2017.17,"value":27.21},{"site":"ʻAimakapā","year":2017.27,"value":27.79},{"site":"ʻAimakapā","year":2017.35,"value":28.0},{"site":"ʻAimakapā","year":2017.43,"value":28.53},{"site":"ʻAimakapā","year":2017.51,"value":29.12},{"site":"ʻAimakapā","year":2017.63,"value":29.12},{"site":"ʻAimakapā","year":2017.71,"value":28.53},{"site":"ʻAimakapā","year":2017.79,"value":27.5},{"site":"ʻAimakapā","year":2017.86,"value":25.59},{"site":"ʻAimakapā","year":2017.93,"value":23.91},{"site":"ʻAimakapā","year":2018.01,"value":25.15},{"site":"ʻAimakapā","year":2018.09,"value":25.15},{"site":"ʻAimakapā","year":2018.17,"value":26.32},{"site":"ʻAimakapā","year":2018.25,"value":27.35},{"site":"ʻAimakapā","year":2018.33,"value":28.09},{"site":"ʻAimakapā","year":2018.41,"value":28.24},{"site":"ʻAimakapā","year":2018.49,"value":29.26},{"site":"ʻAimakapā","year":2018.57,"value":29.12},{"site":"ʻAimakapā","year":2018.65,"value":29.56},{"site":"ʻAimakapā","year":2018.73,"value":29.18},{"site":"ʻAimakapā","year":2018.81,"value":27.5},{"site":"ʻAimakapā","year":2018.9,"value":26.03},{"site":"ʻAimakapā","year":2019.0,"value":24.56},{"site":"ʻAimakapā","year":2019.08,"value":24.71},{"site":"ʻAimakapā","year":2019.16,"value":26.76},{"site":"ʻAimakapā","year":2019.24,"value":28.53},{"site":"ʻAimakapā","year":2019.34,"value":29.35},{"site":"ʻAimakapā","year":2019.44,"value":29.65},{"site":"ʻAimakapā","year":2019.52,"value":29.56},{"site":"ʻAimakapā","year":2019.6,"value":29.85},{"site":"ʻAimakapā","year":2019.68,"value":29.71},{"site":"ʻAimakapā","year":2019.76,"value":28.68},{"site":"ʻAimakapā","year":2019.84,"value":27.5},{"site":"ʻAimakapā","year":2019.92,"value":26.41},{"site":"ʻAimakapā","year":2020.0,"value":25.74},{"site":"ʻAimakapā","year":2020.1,"value":25.53},{"site":"ʻAimakapā","year":2020.18,"value":26.62},{"site":"ʻAimakapā","year":2020.25,"value":28.18},{"site":"ʻAimakapā","year":2020.33,"value":27.94},{"site":"ʻAimakapā","year":2020.43,"value":28.59},{"site":"ʻAimakapā","year":2020.53,"value":28.76},{"site":"ʻAimakapā","year":2020.61,"value":28.88},{"site":"ʻAimakapā","year":2020.69,"value":29.06},{"site":"ʻAimakapā","year":2020.77,"value":28.09},{"site":"ʻAimakapā","year":2020.85,"value":26.91},{"site":"ʻAimakapā","year":2020.94,"value":26.18},{"site":"ʻAimakapā","year":2021.02,"value":25.5},{"site":"ʻAimakapā","year":2021.1,"value":25.94},{"site":"ʻAimakapā","year":2021.18,"value":26.32},{"site":"ʻAimakapā","year":2021.26,"value":27.5},{"site":"ʻAimakapā","year":2021.34,"value":28.38},{"site":"ʻAimakapā","year":2021.42,"value":29.06},{"site":"ʻAimakapā","year":2021.53,"value":28.88},{"site":"ʻAimakapā","year":2021.61,"value":28.82},{"site":"ʻAimakapā","year":2021.69,"value":28.76},{"site":"ʻAimakapā","year":2021.77,"value":27.65},{"site":"ʻAimakapā","year":2021.87,"value":26.32},{"site":"ʻAimakapā","year":2021.95,"value":25.29}
]
},
"vconcat": [
{
"width": 580, "height": 230,
"data": {"name": "level"},
"layer": [
{"mark": {"type": "line", "strokeWidth": 1.5, "invalid": "break-paths-show-domains"},
 "encoding": {
  "x": {"field": "year", "type": "quantitative", "scale": {"domain": [2008, 2022], "nice": false, "zero": false}, "axis": {"orient": "bottom", "values": [2008,2010,2012,2014,2016,2018,2020,2022], "tickSize": -8, "labels": false, "title": null}},
  "y": {"field": "value", "type": "quantitative", "scale": {"domain": [0.5, 4], "nice": false, "zero": false}, "axis": {"orient": "left", "values": [0.5,1,1.5,2,2.5,3,3.5,4], "format": ".1f", "tickSize": -8, "labelPadding": 14, "title": ["Monthly mean groundwater level, in", "feet above mean sea level"], "titleX": -73, "titleBaseline": "middle"}},
  "color": {"field": "site", "type": "nominal", "scale": {"domain": ["Kalaoa","KAHO3","KAHO2","KAHO1","ʻAimakapā"], "range": ["#a6d854","#66c2a5","#8da0cb","#fc8d62","#e78ac3"]}, "legend": {"title": "EXPLANATION"}},
  "strokeDash": {"field": "site", "type": "nominal", "scale": {"domain": ["Kalaoa","KAHO3","KAHO2","KAHO1","ʻAimakapā"], "range": [[2,2],[1,0],[1,0],[1,0],[6,2,1.5,2]]}, "legend": {"title": "EXPLANATION"}}
 }},
{"mark": {"type": "line", "opacity": 0},
 "encoding": {
  "x": {"field": "year", "type": "quantitative", "scale": {"domain": [2008, 2022], "nice": false, "zero": false}, "axis": {"orient": "bottom", "values": [2009,2011,2013,2015,2017,2019,2021], "tickSize": -4, "labels": false, "title": null}},
  "y": {"field": "value", "type": "quantitative", "scale": {"domain": [0.5, 4], "nice": false, "zero": false}, "axis": {"orient": "left", "values": [0.75,1.25,1.75,2.25,2.75,3.25,3.75], "tickSize": -4, "labels": false, "title": null}}
 }},
{"mark": {"type": "line", "opacity": 0},
 "encoding": {
  "x": {"field": "year", "type": "quantitative", "scale": {"domain": [2008, 2022], "nice": false, "zero": false}, "axis": {"orient": "top", "values": [2008,2010,2012,2014,2016,2018,2020,2022], "tickSize": -8, "labels": false, "title": null}},
  "y": {"field": "value", "type": "quantitative", "scale": {"domain": [0.5, 4], "nice": false, "zero": false}, "axis": {"orient": "right", "values": [0.5,1,1.5,2,2.5,3,3.5,4], "tickSize": -8, "labels": false, "title": null}}
 }},
{"mark": {"type": "line", "opacity": 0},
 "encoding": {
  "x": {"field": "year", "type": "quantitative", "scale": {"domain": [2008, 2022], "nice": false, "zero": false}, "axis": {"orient": "top", "values": [2009,2011,2013,2015,2017,2019,2021], "tickSize": -4, "labels": false, "title": null}},
  "y": {"field": "value", "type": "quantitative", "scale": {"domain": [0.5, 4], "nice": false, "zero": false}, "axis": {"orient": "right", "values": [0.75,1.25,1.75,2.25,2.75,3.25,3.75], "tickSize": -4, "labels": false, "title": null}}
 }}
],
"resolve": {"axis": {"x": "independent", "y": "independent"}}
},
{
"width": 580, "height": 230,
"data": {"name": "sc"},
"layer": [
{"mark": {"type": "line", "strokeWidth": 1.5, "invalid": "break-paths-show-domains"},
 "encoding": {
  "x": {"field": "year", "type": "quantitative", "scale": {"domain": [2008, 2022], "nice": false, "zero": false}, "axis": {"orient": "bottom", "values": [2008,2010,2012,2014,2016,2018,2020,2022], "tickSize": -8, "labels": false, "title": null}},
  "y": {"field": "value", "type": "quantitative", "scale": {"domain": [5000, 25000], "nice": false, "zero": false}, "axis": {"orient": "left", "values": [5000,10000,15000,20000,25000], "format": ",d", "tickSize": -8, "labelPadding": 14, "title": ["Monthly mean fluid specific", "conductance, in microsiemens per", "centimeter at 25 degrees Celsius"], "titleX": -93, "titleBaseline": "middle"}},
  "color": {"field": "site", "type": "nominal", "scale": {"domain": ["Kalaoa","KAHO3","KAHO2","KAHO1","ʻAimakapā"], "range": ["#a6d854","#66c2a5","#8da0cb","#fc8d62","#e78ac3"]}, "legend": {"title": "EXPLANATION"}},
  "strokeDash": {"field": "site", "type": "nominal", "scale": {"domain": ["Kalaoa","KAHO3","KAHO2","KAHO1","ʻAimakapā"], "range": [[2,2],[1,0],[1,0],[1,0],[6,2,1.5,2]]}, "legend": {"title": "EXPLANATION"}}
 }},
{"mark": {"type": "line", "opacity": 0},
 "encoding": {
  "x": {"field": "year", "type": "quantitative", "scale": {"domain": [2008, 2022], "nice": false, "zero": false}, "axis": {"orient": "bottom", "values": [2009,2011,2013,2015,2017,2019,2021], "tickSize": -4, "labels": false, "title": null}},
  "y": {"field": "value", "type": "quantitative", "scale": {"domain": [5000, 25000], "nice": false, "zero": false}, "axis": {"orient": "left", "values": [6000,7000,8000,9000,11000,12000,13000,14000,16000,17000,18000,19000,21000,22000,23000,24000], "tickSize": -4, "labels": false, "title": null}}
 }},
{"mark": {"type": "line", "opacity": 0},
 "encoding": {
  "x": {"field": "year", "type": "quantitative", "scale": {"domain": [2008, 2022], "nice": false, "zero": false}, "axis": {"orient": "top", "values": [2008,2010,2012,2014,2016,2018,2020,2022], "tickSize": -8, "labels": false, "title": null}},
  "y": {"field": "value", "type": "quantitative", "scale": {"domain": [5000, 25000], "nice": false, "zero": false}, "axis": {"orient": "right", "values": [5000,10000,15000,20000,25000], "tickSize": -8, "labels": false, "title": null}}
 }},
{"mark": {"type": "line", "opacity": 0},
 "encoding": {
  "x": {"field": "year", "type": "quantitative", "scale": {"domain": [2008, 2022], "nice": false, "zero": false}, "axis": {"orient": "top", "values": [2009,2011,2013,2015,2017,2019,2021], "tickSize": -4, "labels": false, "title": null}},
  "y": {"field": "value", "type": "quantitative", "scale": {"domain": [5000, 25000], "nice": false, "zero": false}, "axis": {"orient": "right", "values": [6000,7000,8000,9000,11000,12000,13000,14000,16000,17000,18000,19000,21000,22000,23000,24000], "tickSize": -4, "labels": false, "title": null}}
 }}
],
"resolve": {"axis": {"x": "independent", "y": "independent"}}
},
{
"width": 580, "height": 230,
"data": {"name": "temp"},
"layer": [
{"mark": {"type": "line", "strokeWidth": 1.5, "invalid": "break-paths-show-domains"},
 "encoding": {
  "x": {"field": "year", "type": "quantitative", "scale": {"domain": [2008, 2022], "nice": false, "zero": false}, "axis": {"orient": "bottom", "values": [2008,2010,2012,2014,2016,2018,2020,2022], "format": "d", "tickSize": -8, "labelPadding": 22, "title": "Year", "titlePadding": 10}},
  "y": {"field": "value", "type": "quantitative", "scale": {"domain": [15, 35], "nice": false, "zero": false}, "axis": {"orient": "left", "values": [15,20,25,30,35], "format": "d", "tickSize": -8, "labelPadding": 14, "title": ["Monthly mean water temperature,", "in degrees Celsius"], "titleX": -87, "titleBaseline": "middle"}},
  "color": {"field": "site", "type": "nominal", "scale": {"domain": ["Kalaoa","KAHO3","KAHO2","KAHO1","ʻAimakapā"], "range": ["#a6d854","#66c2a5","#8da0cb","#fc8d62","#e78ac3"]}, "legend": {"title": "EXPLANATION"}},
  "strokeDash": {"field": "site", "type": "nominal", "scale": {"domain": ["Kalaoa","KAHO3","KAHO2","KAHO1","ʻAimakapā"], "range": [[2,2],[1,0],[1,0],[1,0],[6,2,1.5,2]]}, "legend": {"title": "EXPLANATION"}}
 }},
{"mark": {"type": "line", "opacity": 0},
 "encoding": {
  "x": {"field": "year", "type": "quantitative", "scale": {"domain": [2008, 2022], "nice": false, "zero": false}, "axis": {"orient": "bottom", "values": [2009,2011,2013,2015,2017,2019,2021], "tickSize": -4, "labels": false, "title": null}},
  "y": {"field": "value", "type": "quantitative", "scale": {"domain": [15, 35], "nice": false, "zero": false}, "axis": {"orient": "left", "values": [16,17,18,19,21,22,23,24,26,27,28,29,31,32,33,34], "tickSize": -4, "labels": false, "title": null}}
 }},
{"mark": {"type": "line", "opacity": 0},
 "encoding": {
  "x": {"field": "year", "type": "quantitative", "scale": {"domain": [2008, 2022], "nice": false, "zero": false}, "axis": {"orient": "top", "values": [2008,2010,2012,2014,2016,2018,2020,2022], "tickSize": -8, "labels": false, "title": null}},
  "y": {"field": "value", "type": "quantitative", "scale": {"domain": [15, 35], "nice": false, "zero": false}, "axis": {"orient": "right", "values": [15,20,25,30,35], "tickSize": -8, "labels": false, "title": null}}
 }},
{"mark": {"type": "line", "opacity": 0},
 "encoding": {
  "x": {"field": "year", "type": "quantitative", "scale": {"domain": [2008, 2022], "nice": false, "zero": false}, "axis": {"orient": "top", "values": [2009,2011,2013,2015,2017,2019,2021], "tickSize": -4, "labels": false, "title": null}},
  "y": {"field": "value", "type": "quantitative", "scale": {"domain": [15, 35], "nice": false, "zero": false}, "axis": {"orient": "right", "values": [16,17,18,19,21,22,23,24,26,27,28,29,31,32,33,34], "tickSize": -4, "labels": false, "title": null}}
 }}
],
"resolve": {"axis": {"x": "independent", "y": "independent"}}
}
],
"config": {
 "font": "Liberation Sans",
 "view": {"stroke": "#6e6e6e", "strokeWidth": 1.5},
 "axis": {"domain": false, "grid": false, "tickColor": "#6e6e6e", "tickWidth": 1.5, "labelFont": "Liberation Sans", "labelFontSize": 12, "labelColor": "#000000", "titleFont": "Liberation Sans", "titleFontSize": 14, "titleFontWeight": "normal", "titleColor": "#000000", "titleLineHeight": 16},
 "legend": {"orient": "right", "offset": 22, "padding": 0, "titleFontSize": 11, "titleFontWeight": "bold", "titleColor": "#000000", "titlePadding": 6, "labelFontSize": 10, "labelFontWeight": "bold", "labelColor": "#000000", "labelOffset": 6, "symbolType": "stroke", "symbolSize": 625, "symbolStrokeWidth": 2, "rowPadding": 2}
}
}
